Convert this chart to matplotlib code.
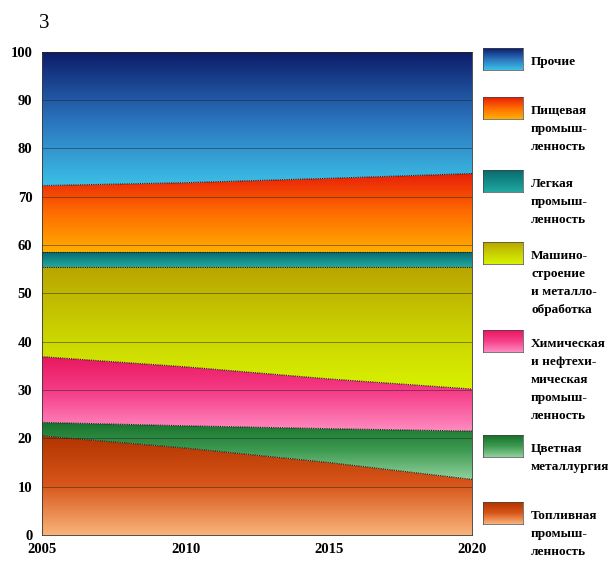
import numpy as np
import matplotlib
matplotlib.use("Agg")
import matplotlib.pyplot as plt
from matplotlib.colors import LinearSegmentedColormap

plt.rcParams['font.family'] = ['Liberation Serif', 'DejaVu Serif']

years = [2005, 2010, 2015, 2020]

# shares of industries, % (bottom to top)
fuel = [20.5, 18.0, 15.0, 11.5]
nonferrous = [2.8, 4.6, 7.0, 10.0]
chemical = [13.6, 12.2, 10.3, 8.7]
machinery = [18.6, 20.7, 23.2, 25.3]
light = [3.0, 3.0, 3.0, 3.0]
food = [13.8, 14.4, 15.3, 16.3]
other = [27.7, 27.1, 26.2, 25.2]

labels = ["Топливная\nпромыш-\nленность",
          "Цветная\nметаллургия",
          "Химическая\nи нефтехи-\nмическая\nпромыш-\nленность",
          "Машино-\nстроение\nи металло-\nобработка",
          "Легкая\nпромыш-\nленность",
          "Пищевая\nпромыш-\nленность",
          "Прочие"]

# gradient colours: (bottom, middle, top)
gradients = [["#f9b47a", "#d8561a", "#b23300"],
             ["#8fd09c", "#3d9a50", "#16702a"],
             ["#ff8cc0", "#f63f8a", "#e8175e"],
             ["#d8f200", "#c9cf00", "#b9a400"],
             ["#22a8a0", "#138a88", "#0b6a6c"],
             ["#ffae00", "#ff6c00", "#e81e08"],
             ["#3cc0e6", "#2a72bc", "#0c1c6a"]]

series = [fuel, nonferrous, chemical, machinery, light, food, other]

fig = plt.figure(figsize=(6.11, 5.62), dpi=100)
ax = fig.add_axes([0.069, 0.048, 0.704, 0.860])

x = np.array(years, dtype=float)
bottom = np.zeros(len(years))
for vals, cols in zip(series, gradients):
    top = bottom + np.array(vals)
    poly = ax.fill_between(x, bottom, top, facecolor='none', edgecolor='none')
    cmap = LinearSegmentedColormap.from_list('g', cols)
    grad = np.linspace(0, 1, 256).reshape(-1, 1)
    lo, hi = bottom.min(), top.max()
    im = ax.imshow(grad, cmap=cmap, origin='lower', aspect='auto',
                   extent=[x[0], x[-1], lo, hi], zorder=1)
    im.set_clip_path(poly.get_paths()[0], transform=ax.transData)
    ax.plot(x, top, color='#1a1a1a', lw=0.8, ls=(0, (1, 1)), zorder=3)
    bottom = top

for yv in range(10, 100, 10):
    ax.axhline(yv, color='#202020', lw=0.6, alpha=0.55, zorder=2)

ax.set_xlim(2005, 2020)
ax.set_ylim(0, 100)
ax.set_xticks([2005, 2010, 2015, 2020])
ax.set_yticks(range(0, 101, 10))
ax.tick_params(length=0, labelsize=10.5)
ax.tick_params(axis='y', pad=7)
ax.tick_params(axis='x', pad=6)
for lab in ax.get_xticklabels() + ax.get_yticklabels():
    lab.set_fontweight('bold')
for s in ax.spines.values():
    s.set_linewidth(0.6)
    s.set_color('#333333')

fig.text(0.072, 0.958, "3", fontsize=15, ha='center', va='center')

# legend, drawn by hand with gradient patches
W, H = 611.0, 562.0
patch_tops = [502, 435, 330, 242, 170, 97, 48]
for lab, cols, pt in zip(labels, gradients, patch_tops):
    pax = fig.add_axes([483 / W, 1 - (pt + 22) / H, 40 / W, 22 / H])
    cmap = LinearSegmentedColormap.from_list('g', cols)
    pax.imshow(np.linspace(0, 1, 64).reshape(-1, 1), cmap=cmap,
               origin='lower', aspect='auto')
    pax.set_xticks([])
    pax.set_yticks([])
    for s in pax.spines.values():
        s.set_linewidth(0.5)
        s.set_color('#444444')
    for i, line in enumerate(lab.split("\n")):
        yy = pt + 14 + i * 18
        fig.text(531 / W, 1 - yy / H, line, fontsize=9.5, fontweight='bold',
                 ha='left', va='center')

fig.savefig("out.png", dpi=100)
